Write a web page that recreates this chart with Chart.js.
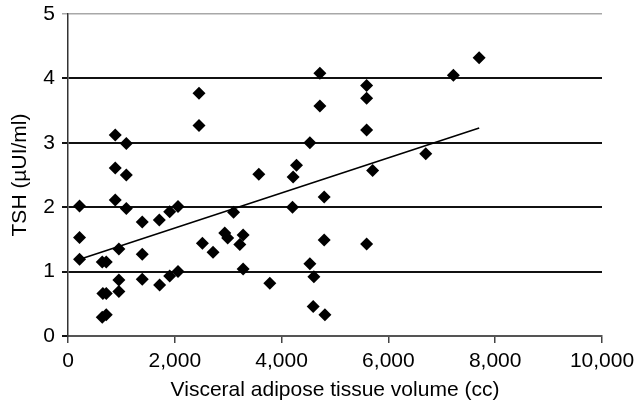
<!DOCTYPE html>
<html>
<head>
<meta charset="utf-8">
<script src="https://cdn.jsdelivr.net/npm/chart.js@4"></script>
<style>
  html, body { margin: 0; padding: 0; background: #fff; }
</style>
</head>
<body>
<canvas id="ScatterChart" width="637" height="405"></canvas>
<script>
// visceral adipose tissue volume (cc) and TSH (µUI/ml)
const volume = [216, 216, 216, 641, 716, 653, 716, 641, 716, 885,
  1092, 885, 1092, 885, 1092, 953, 953, 953, 1391, 1391,
  1391, 1710, 1716, 1904, 2060, 1904, 2060, 2453, 2453, 2517,
  2716, 2935, 2990, 3100, 3217, 3279, 3279, 3573, 3779, 4204,
  4216, 4279, 4529, 4529, 4604, 4592, 4717, 4717, 4798, 4798,
  4811, 5592, 5592, 5592, 5592, 5705, 6700, 7217, 7699];
const tsh = [2.02, 1.53, 1.19, 1.15, 1.15, 0.66, 0.66, 0.29, 0.33, 3.12,
  2.99, 2.61, 2.50, 2.11, 1.98, 1.35, 0.87, 0.69, 1.77, 1.27,
  0.88, 1.80, 0.79, 1.93, 2.01, 0.93, 1.00, 3.77, 3.27, 1.44,
  1.30, 1.60, 1.52, 1.92, 1.42, 1.57, 1.04, 2.51, 0.82, 2.00,
  2.47, 2.65, 3.00, 1.12, 0.92, 0.46, 4.08, 3.57, 2.16, 1.49,
  0.33, 3.89, 3.69, 3.20, 1.43, 2.57, 2.83, 4.05, 4.32];

// linear trend line ends
const trendX = [250, 7700];
const trendY = [1.2, 3.23];

const xTicks = [0, 2000, 4000, 6000, 8000, 10000];
const yTicks = [0, 1, 2, 3, 4, 5];

const FONT = "'Liberation Sans', Arial, Helvetica, sans-serif";

function toPoints(xs, ys) {
  return xs.map((x, i) => ({ x: x, y: ys[i] }));
}

const ctx = document.getElementById("ScatterChart");

new Chart(ctx, {
  type: "scatter",
  data: {
    datasets: [
      {
        label: "TSH",
        data: toPoints(volume, tsh),
        pointStyle: "rectRot",
        pointRadius: 6.5,
        pointBackgroundColor: "#000",
        pointBorderWidth: 0,
        order: 1,
      },
      {
        label: "trend",
        data: toPoints(trendX, trendY),
        showLine: true,
        borderColor: "#000",
        borderWidth: 1.6,
        pointRadius: 0,
        order: 2,
      },
    ],
  },
  options: {
    responsive: false,
    devicePixelRatio: 1,
    animation: false,
    layout: { padding: { top: 14, right: 35, left: 0, bottom: 0 } },
    plugins: {
      legend: { display: false },
      tooltip: { enabled: false },
    },
    scales: {
      x: {
        type: "linear",
        min: 0,
        max: 10000,
        afterFit: function (scale) {
          scale.height = 69;
          scale.paddingLeft = 0;
          scale.paddingRight = 0;
        },
        afterBuildTicks: function (scale) {
          scale.ticks = xTicks.map((v) => ({ value: v }));
        },
        ticks: {
          padding: 6,
          color: "#000",
          font: { family: FONT, size: 21 },
          maxRotation: 0,
          callback: (v) => v.toLocaleString("en-US"),
        },
        grid: {
          drawOnChartArea: false,
          tickLength: 7,
          color: "#444",
          lineWidth: 1.5,
        },
        border: { color: "#555", width: 2 },
        title: {
          display: true,
          text: "Visceral adipose tissue volume (cc)",
          color: "#000",
          font: { family: FONT, size: 21 },
          padding: { top: 2, bottom: 2 },
        },
      },
      y: {
        type: "linear",
        min: 0,
        max: 5,
        afterFit: function (scale) {
          scale.width = 68;
          scale.paddingTop = 0;
          scale.paddingBottom = 0;
        },
        afterBuildTicks: function (scale) {
          scale.ticks = yTicks.map((v) => ({ value: v }));
        },
        ticks: {
          padding: 7,
          color: "#000",
          font: { family: FONT, size: 21 },
        },
        grid: {
          tickLength: 6,
          color: (c) => (c.tick && c.tick.value === 5 ? "#a8a8a8" : "#111"),
          lineWidth: (c) => (c.tick && c.tick.value === 5 ? 1.5 : 2),
        },
        border: { color: "#333", width: 1.5 },
        title: {
          display: true,
          text: "TSH (µUI/ml)",
          color: "#000",
          font: { family: FONT, size: 21 },
          padding: { top: 8, bottom: 0 },
        },
      },
    },
  },
});
</script>
</body>
</html>
